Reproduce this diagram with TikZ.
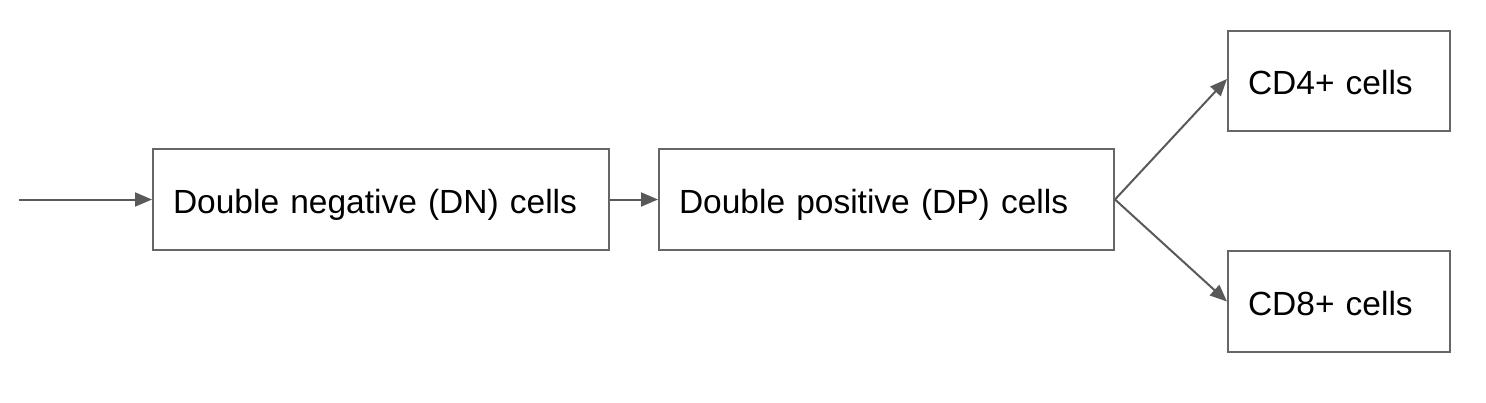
\documentclass[tikz,border=0pt]{standalone}
\usepackage{fontspec}
\setmainfont{Liberation Sans}
\usetikzlibrary{arrows.meta}
\definecolor{boxgray}{HTML}{666666}
\definecolor{arrgray}{HTML}{595959}
\begin{document}
\begin{tikzpicture}[x=1pt,y=-1pt,
  cellbox/.style={draw=boxgray, line width=2pt, rectangle, anchor=north west,
    inner xsep=20pt, inner ysep=0pt, align=left,
    font=\fontsize{33.5}{40}\selectfont, text height=27pt, text depth=0pt},
  conn/.style={draw=arrgray, line width=2pt, -{Triangle[length=17pt,width=14pt]}}]
\useasboundingbox (0,0) rectangle (1486,402);
\node[cellbox, text width=416pt, minimum height=101pt] (dn) at (152,148) {Double negative (DN) cells};
\node[cellbox, text width=415pt, minimum height=101pt] (dp) at (658,148) {Double positive (DP) cells};
\node[cellbox, text width=182pt, minimum height=100pt] (cd4) at (1227,30) {CD4+ cells};
\node[cellbox, text width=182pt, minimum height=101pt] (cd8) at (1227,250) {CD8+ cells};
\coordinate (in) at ([xshift=-133pt]dn.west);
\draw[conn] (in) -- (dn.west);
\draw[conn] (dn.east) -- (dp.west);
\draw[conn] (dp.east) -- ([yshift=2pt]cd4.west);
\draw[conn] (dp.east) -- (cd8.west);
\end{tikzpicture}
\end{document}
